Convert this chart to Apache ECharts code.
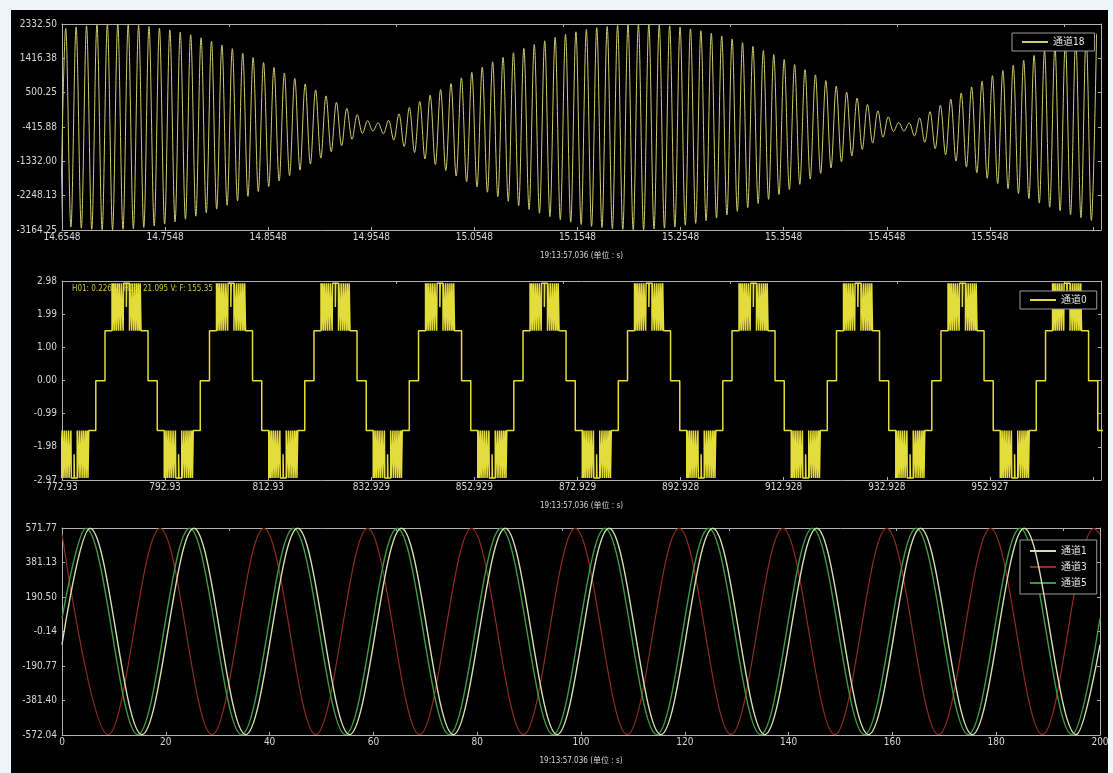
<!DOCTYPE html>
<html>
<head>
<meta charset="utf-8">
<script src="https://cdn.jsdelivr.net/npm/echarts@6/dist/echarts.min.js"></script>
<style>
html, body { margin: 0; padding: 0; background: #edf5fb; }
#card { position: absolute; left: 11px; top: 10px; width: 1097px; height: 763px; background: #000; }
#main { position: absolute; left: 0; top: 0; width: 1113px; height: 773px; }
</style>
</head>
<body>
<div id="card"></div>
<div id="main"></div>
<script>
var axisName = '19:13:57.036 (单位 : s)';

// ---- 通道18 (top panel) ----
var ch18XTicks = ['14.6548', '14.7548', '14.8548', '14.9548', '15.0548', '15.1548', '15.2548', '15.3548', '15.4548', '15.5548'];
var ch18YTicks = ['-3164.25', '-2248.13', '-1332.00', '-415.88', '500.25', '1416.38', '2332.50'];
var ch18XRange = [14.6548, 15.6626];
var ch18YRange = [-3164.25, 2332.50];
var ch18FirstPeak = 14.6584;
var ch18Cycle = 0.0101;
var ch18Peaks = [2214, 2254, 2284, 2314, 2324, 2324, 2314, 2294, 2264, 2224,
  2174, 2114, 2044, 1964, 1874, 1774, 1674, 1554, 1434, 1304,
  1174, 1024, 884, 734, 574, 414, 244, 84, -86, -246,
  -306, -236, -66, 104, 264, 434, 584, 744, 894, 1044,
  1184, 1324, 1444, 1564, 1684, 1784, 1884, 1974, 2054, 2124,
  2184, 2234, 2264, 2294, 2314, 2324, 2324, 2304, 2284, 2254,
  2204, 2154, 2084, 2014, 1934, 1834, 1734, 1624, 1514, 1384,
  1254, 1114, 974, 824, 674, 514, 354, 184, 14, -146,
  -296, -306, -176, -6, 164, 324, 494, 654, 804, 954,
  1094, 1234, 1364, 1494, 1614, 1724, 1824, 1924, 2004, 2074];
var ch18Troughs = [-3046, -3086, -3116, -3146, -3156, -3156, -3146, -3126, -3096, -3056,
  -3006, -2946, -2876, -2796, -2706, -2606, -2506, -2386, -2266, -2136,
  -2006, -1856, -1716, -1566, -1406, -1246, -1076, -916, -746, -586,
  -526, -596, -766, -936, -1096, -1266, -1416, -1576, -1726, -1876,
  -2016, -2156, -2276, -2396, -2516, -2616, -2716, -2806, -2886, -2956,
  -3016, -3066, -3096, -3126, -3146, -3156, -3156, -3136, -3116, -3086,
  -3036, -2986, -2916, -2846, -2766, -2666, -2566, -2456, -2346, -2216,
  -2086, -1946, -1806, -1656, -1506, -1346, -1186, -1016, -846, -686,
  -536, -526, -656, -826, -996, -1156, -1326, -1486, -1636, -1786,
  -1926, -2066, -2196, -2326, -2446, -2556, -2656, -2756, -2836, -2906];

// ---- 通道0 (middle panel) ----
var ch0XTicks = ['772.93', '792.93', '812.93', '832.929', '852.929', '872.929', '892.928', '912.928', '932.928', '952.927'];
var ch0YTicks = ['-2.97', '-1.98', '-0.99', '0.00', '1.00', '1.99', '2.98'];
var ch0XRange = [772.93, 974.48];
var ch0YRange = [-2.97, 2.98];
var ch0Starts = [761.00, 781.27, 801.54, 821.81, 842.09, 862.36, 882.63, 902.90, 923.17, 943.44, 963.72];
var ch0Half = 10.135;
// switching instants inside one half wave: [time offset, new level]
var ch0Edges = [[0, 1.49], [1.36, 2.91], [1.52, 1.49], [1.66, 2.91], [1.88, 1.49], [2.00, 2.91],
  [2.26, 1.49], [2.38, 2.91], [2.66, 1.49], [2.76, 2.91], [3.08, 1.49], [3.17, 2.91],
  [3.52, 1.49], [3.60, 2.91], [4.14, 2.2], [4.21, 2.91], [4.75, 1.49], [4.83, 2.91],
  [5.18, 1.49], [5.27, 2.91], [5.59, 1.49], [5.69, 2.91], [5.97, 1.49], [6.09, 2.91],
  [6.35, 1.49], [6.47, 2.91], [6.69, 1.49], [6.83, 2.91], [6.99, 1.49], [8.35, 0]];

// ---- 通道1 / 3 / 5 (bottom panel) ----
var ch135XTicks = ['0', '20', '40', '60', '80', '100', '120', '140', '160', '180', '200'];
var ch135YTicks = ['-572.04', '-381.40', '-190.77', '-0.14', '190.50', '381.13', '571.77'];
var ch135XRange = [0, 200];
var ch135YRange = [-572.04, 571.77];
var ch1Points = [[0, -72], [5.4, 570], [15.4, -570], [25.4, 570], [35.4, -570], [45.4, 570], [55.4, -570],
  [65.4, 570], [75.4, -570], [85.4, 570], [95.4, -570], [105.4, 570], [115.4, -570], [125.4, 570],
  [135.4, -570], [145.4, 570], [155.4, -570], [165.4, 570], [175.4, -570], [185.4, 570], [195.4, -570], [200, -72]];
var ch3Points = [[0, 538], [8.9, -570], [18.9, 570], [28.9, -570], [38.9, 570], [48.9, -570], [58.9, 570],
  [68.9, -570], [78.9, 570], [88.9, -570], [98.9, 570], [108.9, -570], [118.9, 570], [128.9, -570],
  [138.9, 570], [148.9, -570], [158.9, 570], [168.9, -570], [178.9, 570], [188.9, -570], [198.9, 570], [200, 538]];
var ch5Points = [[0, 72], [4.6, 570], [14.6, -570], [24.6, 570], [34.6, -570], [44.6, 570], [54.6, -570],
  [64.6, 570], [74.6, -570], [84.6, 570], [94.6, -570], [104.6, 570], [114.6, -570], [124.6, 570],
  [134.6, -570], [144.6, 570], [154.6, -570], [164.6, 570], [174.6, -570], [184.6, 570], [194.6, -570], [200, 72]];

// build series data
var ch18Data = [];
for (var k = 0; k < ch18Peaks.length; k++) {
    var tp = ch18FirstPeak + k * ch18Cycle;
    ch18Data.push([tp - ch18Cycle / 2, ch18Troughs[k]]);
    ch18Data.push([tp, ch18Peaks[k]]);
}

var ch0Data = [];
ch0Starts.forEach(function (s) {
    var level = 0;
    [1, -1].forEach(function (sign, h) {
        var base = s + h * ch0Half;
        ch0Edges.forEach(function (e) {
            ch0Data.push([base + e[0], level]);
            level = sign * e[1];
            ch0Data.push([base + e[0], level]);
        });
    });
});

var dom = document.getElementById('main');
var myChart = echarts.init(dom, null, { renderer: 'canvas' });

var axisColor = '#b0b0b0';
var labelColor = '#d6d6d6';
var fontFam = "'Liberation Sans Narrow', 'DejaVu Sans Condensed', 'Noto Sans CJK SC', sans-serif";

function tickLabel(list) {
    return function (v) {
        var i = Math.round(v);
        return (Math.abs(v - i) < 1e-6 && list[i] !== undefined) ? list[i] : '';
    };
}

var xAxes = [];
var yAxes = [];
function addPanel(g, xTicks, yTicks, xRange, yRange, xStep) {
    var line = { onZero: false, lineStyle: { color: axisColor, width: 1 } };
    var tick = { inside: true, length: 3, lineStyle: { color: axisColor } };
    xAxes.push({
        type: 'value', gridIndex: g, position: 'bottom',
        min: 0, max: (xRange[1] - xRange[0]) / xStep, interval: 1,
        name: axisName, nameLocation: 'middle', nameGap: 22,
        nameTextStyle: { color: labelColor, fontSize: 8, fontFamily: fontFam },
        axisLine: line, axisTick: tick, splitLine: { show: false },
        axisLabel: { color: labelColor, fontSize: 10, margin: 2, fontFamily: fontFam,
            showMinLabel: true, showMaxLabel: true, formatter: tickLabel(xTicks) }
    });
    xAxes.push({
        type: 'value', gridIndex: g, position: 'top', min: 0, max: 6.22, interval: 1,
        axisLine: line, axisTick: tick, axisLabel: { show: false }, splitLine: { show: false }
    });
    xAxes.push({
        type: 'value', gridIndex: g, show: false, min: xRange[0], max: xRange[1],
        axisLine: { onZero: false }, splitLine: { show: false }
    });
    yAxes.push({
        type: 'value', gridIndex: g, position: 'left', min: 0, max: 6, interval: 1,
        axisLine: line, axisTick: tick, splitLine: { show: false },
        axisLabel: { color: labelColor, fontSize: 10, margin: 5, fontFamily: fontFam,
            showMinLabel: true, showMaxLabel: true, formatter: tickLabel(yTicks) }
    });
    yAxes.push({
        type: 'value', gridIndex: g, position: 'right', min: 0, max: 6, interval: 1,
        axisLine: line, axisTick: tick, axisLabel: { show: false }, splitLine: { show: false }
    });
    yAxes.push({
        type: 'value', gridIndex: g, show: false, min: yRange[0], max: yRange[1],
        axisLine: { onZero: false }, splitLine: { show: false }
    });
}
addPanel(0, ch18XTicks, ch18YTicks, ch18XRange, ch18YRange, 0.1);
addPanel(1, ch0XTicks, ch0YTicks, ch0XRange, ch0YRange, 20);
addPanel(2, ch135XTicks, ch135YTicks, ch135XRange, ch135YRange, 20);

var legendBase = {
    icon: 'rect', itemWidth: 26, itemHeight: 2, itemGap: 6,
    borderColor: '#9a9a9a', borderWidth: 1, borderRadius: 0,
    backgroundColor: '#000',
    textStyle: { color: '#e4e4e4', fontSize: 10, fontFamily: fontFam }
};

option = {
    backgroundColor: 'transparent',
    animation: false,
    grid: [
        { left: 62, right: 12, top: 24, height: 206, outerBoundsMode: 'none' },
        { left: 62, right: 12, top: 281, height: 199, outerBoundsMode: 'none' },
        { left: 62, right: 13, top: 528, height: 207, outerBoundsMode: 'none' }
    ],
    xAxis: xAxes,
    yAxis: yAxes,
    legend: [
        echarts.util.extend({ left: 1012, top: 33, padding: [4, 10], data: ['通道18'] }, legendBase),
        echarts.util.extend({ left: 1020, top: 291, padding: [4, 10], data: ['通道0'] }, legendBase),
        echarts.util.extend({ left: 1020, top: 540, padding: [6, 10], orient: 'vertical', data: ['通道1', '通道3', '通道5'] }, legendBase)
    ],
    graphic: [{
        type: 'text', left: 72, top: 285, z: 0,
        style: { text: 'H01: 0.226 V  H03: 21.095 V: F: 155.35', fill: '#cfc63c', font: '8px ' + fontFam }
    }],
    series: [
        { name: '通道18', type: 'line', xAxisIndex: 2, yAxisIndex: 2, data: ch18Data,
          symbol: 'none', smooth: 0.35, itemStyle: { color: '#cfca6c' },
          lineStyle: { color: '#cfca6c', width: 1 } },
        { name: '通道0', type: 'line', xAxisIndex: 5, yAxisIndex: 5, data: ch0Data,
          symbol: 'none', itemStyle: { color: '#e4dc3a' },
          lineStyle: { color: '#e4dc3a', width: 1.5 } },
        { name: '通道1', type: 'line', xAxisIndex: 8, yAxisIndex: 8, data: ch1Points,
          symbol: 'none', smooth: 0.35, itemStyle: { color: '#d6dfb0' },
          lineStyle: { color: '#d6dfb0', width: 1.4 }, z: 4 },
        { name: '通道3', type: 'line', xAxisIndex: 8, yAxisIndex: 8, data: ch3Points,
          symbol: 'none', smooth: 0.35, itemStyle: { color: '#8e2e20' },
          lineStyle: { color: '#8e2e20', width: 1.2 }, z: 2 },
        { name: '通道5', type: 'line', xAxisIndex: 8, yAxisIndex: 8, data: ch5Points,
          symbol: 'none', smooth: 0.35, itemStyle: { color: '#3f9a44' },
          lineStyle: { color: '#3f9a44', width: 1.4 }, z: 3 }
    ]
};

if (option && typeof option === 'object') {
    myChart.setOption(option, true);
}
</script>
</body>
</html>
